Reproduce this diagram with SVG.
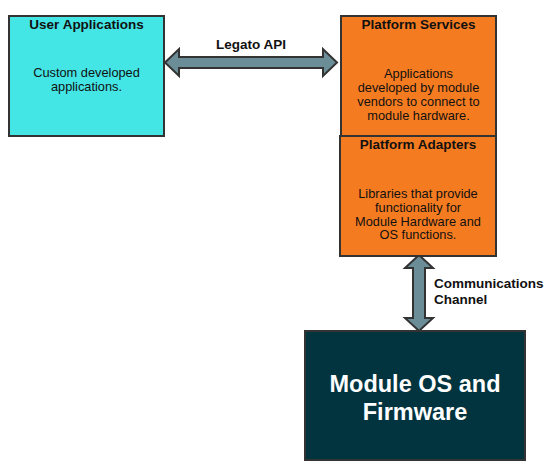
<svg xmlns="http://www.w3.org/2000/svg" width="554" height="472" viewBox="0 0 554 472">
<style>
.box{stroke:#333333;stroke-width:2}
.t{font-family:"Liberation Sans",Arial,sans-serif;font-weight:bold;font-size:13.5px;fill:#111111;text-anchor:middle}
.b{font-family:"Liberation Sans",Arial,sans-serif;font-size:12.8px;fill:#111111;text-anchor:middle}
.lbl{font-family:"Liberation Sans",Arial,sans-serif;font-weight:bold;font-size:13.5px;fill:#111111}
.arr{fill:#6A8D98;stroke:#333333;stroke-width:2;stroke-linejoin:miter}
.big{font-family:"Liberation Sans",Arial,sans-serif;font-weight:bold;font-size:23.5px;fill:#ffffff;text-anchor:middle}
</style>
<rect width="554" height="472" fill="#ffffff"/>
<g id="connectors">
<path class="arr" d="M165,62.5 L179,49 L179,57 L323,57 L323,49 L337,62.5 L323,76 L323,68 L179,68 L179,76 Z"/>
<text class="lbl" x="251" y="49" text-anchor="middle">Legato API</text>
<path class="arr" d="M419,255 L433,268 L425,268 L425,318 L433,318 L419,331 L405,318 L413,318 L413,268 L405,268 Z"/>
<text class="lbl" x="434" y="288">Communications</text>
<text class="lbl" x="434" y="304">Channel</text>
</g>
<g id="user-applications">
<rect class="box" x="9" y="16" width="155" height="120" fill="#44E5E5"/>
<text class="t" x="86.5" y="29">User Applications</text>
<text class="b" x="86.5" y="77">Custom developed</text>
<text class="b" x="86.5" y="91">applications.</text>
</g>
<g id="platform-services">
<rect class="box" x="341" y="16" width="155" height="120" fill="#F57B20"/>
<text class="t" x="418.5" y="29">Platform Services</text>
<text class="b" x="418.5" y="77.5">Applications</text>
<text class="b" x="418.5" y="91.5">developed by module</text>
<text class="b" x="418.5" y="105.5">vendors to connect to</text>
<text class="b" x="418.5" y="119.5">module hardware.</text>
</g>
<g id="platform-adapters">
<rect class="box" x="340" y="136" width="156" height="120" fill="#F57B20"/>
<text class="t" x="418" y="149">Platform Adapters</text>
<text class="b" x="418" y="197.5">Libraries that provide</text>
<text class="b" x="418" y="211.5">functionality for</text>
<text class="b" x="418" y="225.5">Module Hardware and</text>
<text class="b" x="418" y="239">OS functions.</text>
</g>
<g id="module-os">
<rect class="box" x="305" y="331" width="220" height="129" fill="#02343F"/>
<text class="big" x="415" y="391.5">Module OS and</text>
<text class="big" x="415" y="419.5">Firmware</text>
</g>
</svg>
